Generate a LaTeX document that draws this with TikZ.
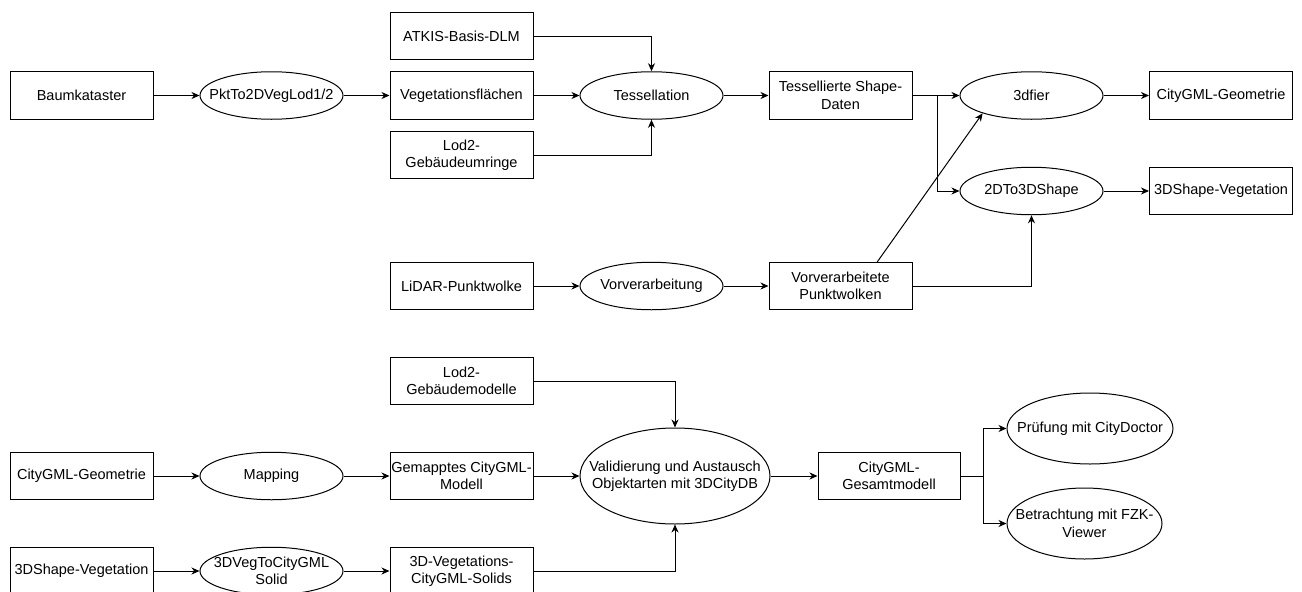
\documentclass[tikz,border=0pt]{standalone}
\usepackage{fontspec}
\setmainfont{Liberation Sans}
\usetikzlibrary{shapes.geometric,arrows.meta,calc}
\tikzset{
  txt/.style={font=\fontsize{14.5}{17.5}\selectfont, align=center, inner sep=0pt},
  box/.style={draw, line width=1pt, rectangle, minimum width=143, minimum height=47.5, inner sep=1pt, txt},
  proc/.style={draw, line width=1pt, ellipse, minimum width=143, minimum height=47.5, inner sep=0pt},
  plab/.style={label={[txt]center:{#1}}},
  arr/.style={line width=1pt, -{Stealth[length=8pt,width=7pt,inset=2.5pt]}},
  ln/.style={line width=1pt}
}
\begin{document}
\begin{tikzpicture}[x=1pt,y=-1pt]
\useasboundingbox (0,0) rectangle (1302,592);
\fill[white] (0,0) rectangle (1302,592);
\clip (0,0) rectangle (1302,592);

% top part
\node[box] (bk) at (81.5,95.5) {Baumkataster};
\node[proc,plab={PktTo2DVegLod1/2}] (pkt) at (271.5,95.5) {};
\node[box] (atkis) at (461.5,36) {ATKIS-Basis-DLM};
\node[box] (veg) at (461.5,95.5) {Vegetationsflächen};
\node[box] (lod2u) at (461.5,155) {Lod2-\\Gebäudeumringe};
\node[proc,plab={Tessellation}] (tess) at (651.5,95.5) {};
\node[box] (tsd) at (840.5,95.5) {Tessellierte Shape-\\Daten};
\node[proc,plab={3dfier}] (dfier) at (1031.5,95.5) {};
\node[box] (cgg) at (1221,95.5) {CityGML-Geometrie};
\node[proc,plab={2DTo3DShape}] (d2d3) at (1031.5,191) {};
\node[box] (shv) at (1221,191) {3DShape-Vegetation};
\node[box] (lidar) at (461.5,286) {LiDAR-Punktwolke};
\node[proc,plab={Vorverarbeitung}] (vorv) at (651.5,286) {};
\node[box] (vpw) at (840.5,286) {Vorverarbeitete\\Punktwolken};

\coordinate (br1) at (937,95.5);
\coordinate (vd) at (877,262.25);

\draw[arr] (bk) -- (pkt);
\draw[arr] (pkt) -- (veg);
\draw[arr] (veg) -- (tess);
\draw[arr] (atkis.east) -| (tess.north);
\draw[arr] (lod2u.east) -| (tess.south);
\draw[arr] (tess) -- (tsd);
\draw[arr] (tsd.east) -- (dfier.west);
\draw[arr] (br1) |- (d2d3.west);
\draw[arr] (dfier) -- (cgg);
\draw[arr] (d2d3) -- (shv);
\draw[arr] (lidar) -- (vorv);
\draw[arr] (vorv) -- (vpw);
\draw[arr] (vd) -- (dfier.200);
\draw[arr] (vpw.east) -| (d2d3.south);

% bottom part
\node[box] (lod2g) at (461.5,381) {Lod2-\\Gebäudemodelle};
\node[box] (cgg2) at (81.5,476) {CityGML-Geometrie};
\node[proc,plab={Mapping}] (map) at (271.5,476) {};
\node[box] (gem) at (461.5,476) {Gemapptes CityGML-\\Modell};
\node[proc,minimum width=190,minimum height=96,plab={Validierung und Austausch\\Objektarten mit 3DCityDB}] (valid) at (675,476) {};
\node[box,minimum width=142] (ges) at (889,476) {CityGML-\\Gesamtmodell};
\node[proc,minimum width=166,minimum height=71,plab={Prüfung mit CityDoctor}] (pruef) at (1090,428.5) {};
\node[proc,minimum width=155,minimum height=71,plab={Betrachtung mit FZK-\\Viewer}] (betr) at (1084.5,523.5) {};
\node[box] (shv2) at (81.5,571) {3DShape-Vegetation};
\node[proc,plab={3DVegToCityGML\\Solid}] (vso) at (271.5,571) {};
\node[box] (vsol) at (461.5,571) {3D-Vegetations-\\CityGML-Solids};

\coordinate (br2) at (983,476);

\draw[arr] (lod2g.east) -| (valid.north);
\draw[arr] (cgg2) -- (map);
\draw[arr] (map) -- (gem);
\draw[arr] (gem) -- (valid);
\draw[arr] (vsol.east) -| (valid.south);
\draw[arr] (shv2) -- (vso);
\draw[arr] (vso) -- (vsol);
\draw[arr] (valid) -- (ges);
\draw[ln] (ges.east) -- (br2);
\draw[arr] (br2) |- (pruef.west);
\draw[arr] (br2) |- (betr.west);
\end{tikzpicture}
\end{document}
